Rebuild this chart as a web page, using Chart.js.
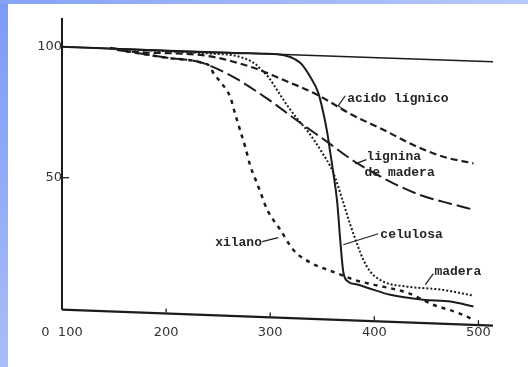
<!DOCTYPE html>
<html>
<head>
<meta charset="utf-8">
<script src="https://cdn.jsdelivr.net/npm/chart.js@4/dist/chart.umd.min.js"></script>
<style>
  body { margin: 0; background: #fff; }
  #wrap { position: relative; width: 528px; height: 367px; }
  #bandLeft { position: absolute; left: 0; top: 0; width: 8px; height: 367px; background: linear-gradient(#7c9bf6, #a9bdf8); }
  #bandTop { position: absolute; left: 0; top: 0; width: 528px; height: 4px; background: linear-gradient(to right, #86a2f6, #b7c8fa); }
</style>
</head>
<body>
<div id="wrap">
  <canvas id="chart"></canvas>
  <div id="bandLeft"></div>
  <div id="bandTop"></div>
</div>
<script>
// temperatura (°C) y % de peso restante
const refX = [100, 514];
const refY = [100, 94.3];

const celulosaX = [100, 280, 306.7, 328.8, 338.5, 346.2, 351, 354.8, 357.7, 360.6, 364.4, 367.3, 370.2, 375, 383.7, 393.3, 415.4, 447.1, 473.1, 495.2];
const celulosaY = [100, 97.5, 97.2, 93.9, 88.5, 82.4, 74.8, 67.2, 59.5, 51.9, 40.5, 26, 14, 10.3, 9.2, 8, 5.3, 3.4, 2.7, 0.8];

const acidoX = [146.2, 168.3, 232.7, 280.8, 312.5, 345.2, 376.9, 408.7, 441.3, 466.3, 495.2];
const acidoY = [99.6, 98.1, 96.9, 92.4, 87.4, 81.7, 74.4, 68.3, 61.8, 58, 55.5];

const ligninaX = [152.9, 201, 232.7, 264.4, 297.1, 328.8, 354.8, 379.8, 402.9, 425, 446.2, 473.1, 495.2];
const ligninaY = [98.9, 95.8, 94.1, 88.5, 80.2, 71, 63.7, 56.5, 51.1, 46.6, 43.1, 40.1, 37.8];

const maderaX = [146, 201, 247.1, 266.3, 285.6, 290.4, 298.1, 307.7, 317.3, 326.9, 336.5, 348.1, 360.6, 370.2, 376.9, 383.7, 389.4, 396.2, 408.7, 431.7, 463.5, 495.2];
const maderaY = [99.3, 98.3, 97.3, 96.6, 93.5, 91.6, 88.5, 82.8, 77.1, 72.1, 67.5, 60.7, 51.9, 40.5, 32.1, 24.4, 18.7, 14.1, 10.3, 8.4, 7.3, 5];

const xilanoX = [152.9, 201, 232.7, 242.3, 245.2, 251.9, 261.5, 266.3, 271.2, 276, 280.8, 285.6, 290.4, 297.1, 309.6, 322.1, 338.5, 354.8, 370.2, 379.8, 399, 431.7, 456.7, 479.8, 495.2];
const xilanoY = [98.9, 95.8, 94.1, 92.4, 90.1, 86.7, 80.9, 74.4, 68, 61.8, 54.6, 49.6, 44.7, 37.8, 30.2, 22.5, 17.6, 14.9, 12.6, 11.1, 9.2, 6.1, 1.5, -1.5, -4.2];

// ejes dibujados como en el original (ligeramente inclinados)
const ejeXx = [100, 514];
const ejeXy = [-0.4, -6.5];
const ejeYx = [100, 100];
const ejeYy = [111, -0.4];

const xTicks = [100, 200, 300, 400, 500];
const yTicks = [50, 100];

const notas = [
  { lines: ['acido lígnico'], x: 374, y: 80.2, leader: [[372.1, 81.3], [365.4, 77.5], [369.2, 76.3]] },
  { lines: ['lignina', 'de madera'], x: 392.5, y: 58, leader: [[392.3, 56.9], [381.7, 55.3]] },
  { lines: ['celulosa'], x: 405.8, y: 28.2, leader: [[403.8, 28.6], [370.2, 24.4]] },
  { lines: ['xilano'], x: 247.1, y: 25.2, leader: [[292.3, 25.6], [307.7, 27.1]] },
  { lines: ['madera'], x: 457.7, y: 14.1, leader: [[456.7, 13.4], [449, 9.2]] }
];

const ink = '#1c1c1c';

function pts(xs, ys) {
  return xs.map((x, i) => ({ x: x, y: ys[i] }));
}

function serie(xs, ys, width, dash) {
  return {
    data: pts(xs, ys),
    borderColor: ink,
    borderWidth: width,
    borderDash: dash,
    pointRadius: 0,
    fill: false,
    cubicInterpolationMode: 'monotone',
    clip: false
  };
}

const notasPlugin = {
  id: 'notas',
  afterDatasetsDraw(chart) {
    const { ctx, scales: { x, y } } = chart;
    ctx.save();
    // marcas de los ejes
    ctx.strokeStyle = ink;
    ctx.lineWidth = 1.3;
    yTicks.slice(0, 1).forEach(v => {
      const py = y.getPixelForValue(v);
      ctx.beginPath();
      ctx.moveTo(x.getPixelForValue(100), py);
      ctx.lineTo(x.getPixelForValue(100) + 7, py);
      ctx.stroke();
    });
    xTicks.slice(1).forEach(v => {
      const t = (v - ejeXx[0]) / (ejeXx[1] - ejeXx[0]);
      const base = y.getPixelForValue(ejeXy[0] + t * (ejeXy[1] - ejeXy[0]));
      const px = x.getPixelForValue(v);
      ctx.beginPath();
      ctx.moveTo(px, base - 1);
      ctx.lineTo(px, base - 5);
      ctx.stroke();
    });
    // etiquetas de las curvas
    ctx.lineWidth = 1.2;
    ctx.fillStyle = '#262626';
    ctx.font = 'bold 13px "Liberation Mono", monospace';
    ctx.textBaseline = 'middle';
    ctx.textAlign = 'left';
    notas.forEach(n => {
      ctx.beginPath();
      n.leader.forEach((p, i) => {
        const px = x.getPixelForValue(p[0]);
        const py = y.getPixelForValue(p[1]);
        if (i === 0) ctx.moveTo(px, py); else ctx.lineTo(px, py);
      });
      ctx.stroke();
      const tx = x.getPixelForValue(n.x);
      const ty = y.getPixelForValue(n.y);
      n.lines.forEach((s, i) => ctx.fillText(s, tx - (i ? 2 : 0), ty + i * 16));
    });
    ctx.restore();
  }
};

new Chart(document.getElementById('chart'), {
  type: 'line',
  data: {
    datasets: [
      serie(refX, refY, 1.5, []),
      serie(celulosaX, celulosaY, 2, []),
      serie(acidoX, acidoY, 2.2, [7, 4]),
      serie(ligninaX, ligninaY, 2, [14, 5]),
      serie(maderaX, maderaY, 2, [2, 2]),
      serie(xilanoX, xilanoY, 2.5, [4, 5]),
      serie(ejeXx, ejeXy, 2.2, []),
      serie(ejeYx, ejeYy, 2, [])
    ]
  },
  options: {
    responsive: true,
    maintainAspectRatio: false,
    animation: false,
    layout: { padding: { left: 22, right: 35, top: 18, bottom: 10 } },
    plugins: { legend: { display: false }, tooltip: { enabled: false } },
    scales: {
      x: {
        type: 'linear',
        min: 100,
        max: 514,
        grid: { display: false, drawTicks: false, tickLength: 0 },
        border: { display: false },
        afterBuildTicks: s => { s.ticks = xTicks.map(v => ({ value: v })); },
        afterFit: s => { s.height = 30; },
        ticks: {
          padding: -2,
          color: '#333',
          font: { family: '"DejaVu Sans", sans-serif', size: 13 },
          callback: v => v === 100 ? '0  100' : String(v)
        }
      },
      y: {
        min: -7,
        max: 111,
        grid: { display: false, drawTicks: false, tickLength: 0 },
        border: { display: false },
        afterBuildTicks: s => { s.ticks = yTicks.map(v => ({ value: v })); },
        afterFit: s => { s.width = 40; },
        ticks: {
          padding: 0,
          color: '#333',
          font: { family: '"DejaVu Sans", sans-serif', size: 13 }
        }
      }
    }
  },
  plugins: [notasPlugin]
});
</script>
</body>
</html>
